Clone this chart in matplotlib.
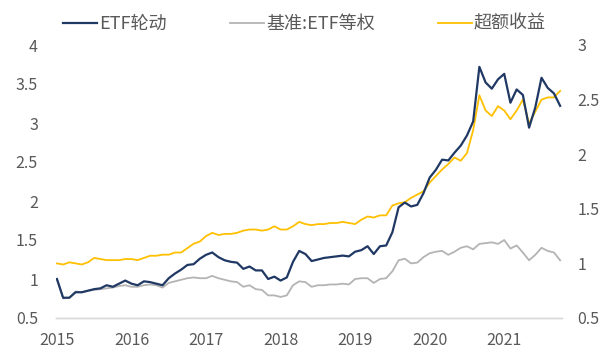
import numpy as np
import matplotlib
matplotlib.use("Agg")
import matplotlib.pyplot as plt

plt.rcParams['font.family'] = ['Noto Sans CJK SC', 'DejaVu Sans']

# monthly points, Jan 2015 - Oct 2021
years = ['2015', '2016', '2017', '2018', '2019', '2020', '2021']

etf_rotation = [1.00, 0.76, 0.76, 0.83, 0.83, 0.85, 0.87, 0.88, 0.92, 0.90,
                0.94, 0.98, 0.94, 0.92, 0.97, 0.96, 0.94, 0.92, 1.01, 1.07,
                1.12, 1.18, 1.19, 1.26, 1.31, 1.34, 1.28, 1.24, 1.22, 1.21,
                1.13, 1.16, 1.11, 1.11, 1.00, 1.03, 0.98, 1.02, 1.22, 1.36,
                1.32, 1.23, 1.25, 1.27, 1.28, 1.29, 1.30, 1.29, 1.35, 1.37,
                1.42, 1.32, 1.42, 1.43, 1.60, 1.92, 1.98, 1.93, 1.95, 2.10,
                2.30, 2.40, 2.53, 2.52, 2.62, 2.71, 2.84, 3.02, 3.72, 3.52,
                3.44, 3.56, 3.63, 3.26, 3.43, 3.36, 2.94, 3.20, 3.58, 3.45,
                3.38, 3.22]

benchmark = [1.00, 0.75, 0.76, 0.84, 0.83, 0.85, 0.86, 0.87, 0.88, 0.89,
             0.91, 0.92, 0.90, 0.90, 0.92, 0.93, 0.92, 0.89, 0.95, 0.97,
             0.99, 1.01, 1.02, 1.01, 1.01, 1.04, 1.01, 0.99, 0.97, 0.96,
             0.90, 0.92, 0.87, 0.86, 0.79, 0.79, 0.77, 0.79, 0.92, 0.97,
             0.96, 0.90, 0.92, 0.92, 0.93, 0.93, 0.94, 0.93, 1.00, 1.01,
             1.01, 0.95, 1.00, 1.01, 1.10, 1.24, 1.26, 1.20, 1.21, 1.28,
             1.33, 1.35, 1.36, 1.31, 1.35, 1.40, 1.42, 1.38, 1.45, 1.46,
             1.47, 1.45, 1.50, 1.39, 1.43, 1.34, 1.24, 1.31, 1.40, 1.36,
             1.34, 1.24]

excess = [1.00, 0.99, 1.01, 1.00, 0.99, 1.01, 1.05, 1.04, 1.03, 1.03,
          1.03, 1.04, 1.04, 1.03, 1.05, 1.07, 1.07, 1.08, 1.08, 1.10,
          1.10, 1.14, 1.18, 1.20, 1.25, 1.28, 1.26, 1.27, 1.27, 1.28,
          1.30, 1.31, 1.31, 1.30, 1.31, 1.34, 1.31, 1.31, 1.34, 1.38,
          1.36, 1.35, 1.36, 1.36, 1.37, 1.37, 1.38, 1.37, 1.36, 1.40,
          1.43, 1.42, 1.44, 1.44, 1.53, 1.55, 1.56, 1.60, 1.63, 1.66,
          1.74, 1.80, 1.86, 1.91, 1.97, 1.94, 2.01, 2.22, 2.54, 2.40,
          2.35, 2.44, 2.40, 2.32, 2.40, 2.50, 2.28, 2.39, 2.50, 2.52,
          2.52, 2.58]

x = np.arange(len(etf_rotation))

fig = plt.figure(figsize=(6.09, 3.6), dpi=100)
ax = fig.add_axes([56/609, 1 - 318/360, (562-56)/609, (318-45)/360])
ax2 = ax.twinx()

l1, = ax.plot(x, etf_rotation, color='#203864', lw=1.6, label='ETF轮动', zorder=3)
l2, = ax.plot(x, benchmark, color='#B4B4B4', lw=1.3, label='基准:ETF等权', zorder=2)
l3, = ax2.plot(x, excess, color='#FFC000', lw=1.3, label='超额收益')
ax.set_zorder(ax2.get_zorder() + 1)
ax.patch.set_visible(False)

ax.set_ylim(0.5, 4)
ax.set_yticks(np.arange(0.5, 4.01, 0.5))
ax.set_yticklabels(['0.5', '1', '1.5', '2', '2.5', '3', '3.5', '4'])
ax2.set_ylim(0.5, 3)
ax2.set_yticks(np.arange(0.5, 3.01, 0.5))
ax2.set_yticklabels(['0.5', '1', '1.5', '2', '2.5', '3'])

ax.set_xlim(-0.15, 81.3)
ax.set_xticks(np.arange(0, 73, 12))
ax.set_xticklabels(years)

for a in (ax, ax2):
    for s in ['top', 'left', 'right']:
        a.spines[s].set_visible(False)
    a.spines['bottom'].set_color('#D9D9D9')
    a.spines['bottom'].set_linewidth(1.0)
    a.tick_params(length=0, labelsize=11.5, colors='#595959')
ax.tick_params(axis='y', pad=13)
ax2.tick_params(axis='y', pad=11)
ax.tick_params(axis='x', pad=10)

fig.legend(handles=[l1, l2, l3], loc='center', bbox_to_anchor=(0.5, 1 - 24/360),
           ncol=3, frameon=False, fontsize=13, handlelength=1.9,
           handletextpad=0.1, columnspacing=3.5, labelcolor='#595959')

fig.savefig('out.png', dpi=100)
